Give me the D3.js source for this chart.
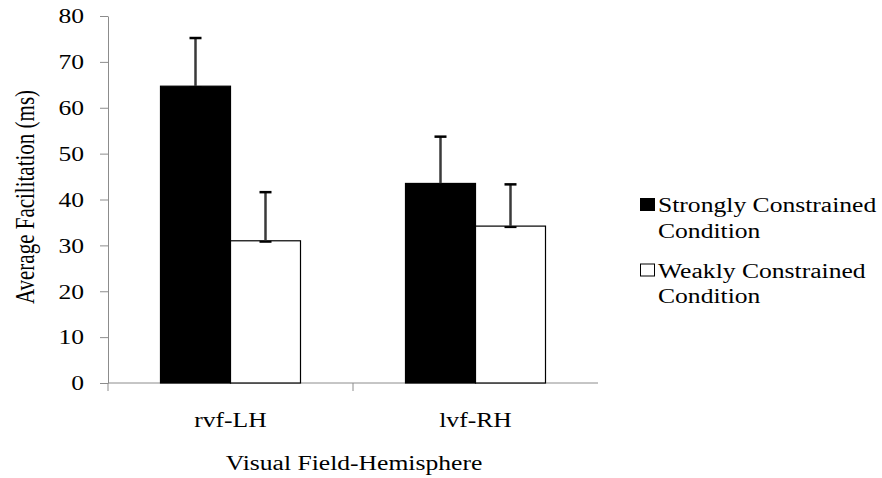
<!DOCTYPE html>
<html>
<head>
<meta charset="utf-8">
<script src="https://cdn.jsdelivr.net/npm/d3@7"></script>
<style>
  body { margin: 0; background: #fff; }
</style>
</head>
<body>
<div id="chart"></div>
<script>
// data
const categories = ["rvf-LH", "lvf-RH"];
const seriesNames = ["Strongly Constrained Condition", "Weakly Constrained Condition"];
const strongValues = [64.7, 43.5];
const strongErrors = [10.5, 10.2];
const weakValues = [31.0, 34.2];
const weakErrors = [10.6, 9.1];
const yTicks = [0, 10, 20, 30, 40, 50, 60, 70, 80];

const FONT = "Liberation Serif";
// the original text is drawn a little wider than it is tall
const SX = 1.28;

let margin = { top: 16, right: 284, bottom: 95, left: 108 },
  width = 882 - margin.left - margin.right,
  height = 478 - margin.top - margin.bottom;

let svg = d3.select("#chart")
  .append("svg")
  .attr("width", 882)
  .attr("height", 478)
  .append("g")
  .attr("transform", translate(margin.left, margin.top));

let x = d3.scaleBand()
  .domain(categories)
  .range([0, width])
  .paddingInner(0)
  .paddingOuter(0);

let inner = d3.scaleBand()
  .domain([0, 1])
  .range([52.5, x.bandwidth() - 52.5]);

let y = d3.scaleLinear()
  .domain([0, 80])
  .range([height, 0]);

// y axis
let yAxis = svg.append("g")
  .call(d3.axisLeft(y).tickValues(yTicks).tickSize(8).tickPadding(16).tickSizeOuter(0))
  .attr("font-family", FONT)
  .attr("font-size", 20);
yAxis.select(".domain").attr("stroke", "#8c8c8c");
yAxis.selectAll(".tick line").attr("stroke", "#8c8c8c");
yAxis.selectAll(".tick text")
  .attr("fill", "#000")
  .attr("dy", "0.34em")
  .call(stretch);

// x axis with ticks between categories
let xAxisG = svg.append("g").attr("transform", translate(0, height));
xAxisG.append("line")
  .attr("x1", 0).attr("x2", width)
  .attr("stroke", "#8c8c8c");
let bounds = [0, x.bandwidth()];
xAxisG.selectAll(".sep")
  .data(bounds)
  .enter().append("line")
  .attr("x1", d => d).attr("x2", d => d)
  .attr("y1", 0).attr("y2", 8)
  .attr("stroke", "#8c8c8c");
xAxisG.selectAll(".cat")
  .data(categories)
  .enter().append("text")
  .attr("x", d => x(d) + x.bandwidth() / 2)
  .attr("y", 43.5)
  .attr("text-anchor", "middle")
  .attr("font-family", FONT)
  .attr("font-size", 20)
  .text(d => d)
  .call(stretch);

// bars
let series = [
  { values: strongValues, errors: strongErrors, fill: "#000" },
  { values: weakValues, errors: weakErrors, fill: "#fff" }
];

series.forEach(function(s, si) {
  let g = svg.append("g");
  let cx = d => x(d) + inner(si) + inner.bandwidth() / 2;
  g.selectAll("rect")
    .data(categories)
    .enter().append("rect")
    .attr("x", d => x(d) + inner(si))
    .attr("width", inner.bandwidth())
    .attr("y", (d, i) => y(s.values[i]))
    .attr("height", (d, i) => height - y(s.values[i]))
    .attr("fill", s.fill)
    .attr("stroke", "#000")
    .attr("stroke-width", 1.2);

  // error bars (upper only)
  g.selectAll(".err")
    .data(categories)
    .enter().append("line")
    .attr("x1", cx)
    .attr("x2", cx)
    .attr("y1", (d, i) => y(s.values[i]))
    .attr("y2", (d, i) => y(s.values[i] + s.errors[i]))
    .attr("stroke", "#3a3a3a")
    .attr("stroke-width", 2.5);
  g.selectAll(".cap")
    .data(categories)
    .enter().append("line")
    .attr("x1", d => cx(d) - 6)
    .attr("x2", d => cx(d) + 6)
    .attr("y1", (d, i) => y(s.values[i] + s.errors[i]))
    .attr("y2", (d, i) => y(s.values[i] + s.errors[i]))
    .attr("stroke", "#000")
    .attr("stroke-width", 2.5);
  g.selectAll(".base")
    .data(categories)
    .enter().append("line")
    .attr("x1", d => cx(d) - 6)
    .attr("x2", d => cx(d) + 6)
    .attr("y1", (d, i) => y(s.values[i]) + 1)
    .attr("y2", (d, i) => y(s.values[i]) + 1)
    .attr("stroke", "#000")
    .attr("stroke-width", 2);
});

// axis titles
svg.append("text")
  .attr("transform", "translate(" + (34 - margin.left) + "," + (197 - margin.top) + ") rotate(-90) scale(1," + SX + ")")
  .attr("text-anchor", "middle")
  .attr("font-family", FONT)
  .attr("font-size", 21)
  .text("Average Facilitation (ms)");

svg.append("text")
  .attr("x", 354 - margin.left)
  .attr("y", 470 - margin.top)
  .attr("text-anchor", "middle")
  .attr("font-family", FONT)
  .attr("font-size", 20)
  .text("Visual Field-Hemisphere")
  .call(stretch);

// legend
let legend = svg.append("g").attr("transform", translate(640 - margin.left, 198 - margin.top));
let legendItems = legend.selectAll(".item")
  .data(seriesNames)
  .enter().append("g")
  .attr("transform", (d, i) => translate(0, i * 65.5));
legendItems.append("rect")
  .attr("x", 0.5).attr("y", 0.5)
  .attr("width", 14).attr("height", 12)
  .attr("fill", (d, i) => series[i].fill)
  .attr("stroke", "#000");
let lt = legendItems.append("text")
  .attr("transform", translate(18, 14) + " scale(" + SX + ",1)")
  .attr("font-family", FONT)
  .attr("font-size", 20);
lt.append("tspan").attr("x", 0).text(d => d.split(" ").slice(0, 2).join(" "));
lt.append("tspan").attr("x", 0).attr("dy", 26).text(d => d.split(" ").slice(2).join(" "));

function stretch(sel) {
  sel.each(function() {
    let t = d3.select(this);
    let tx = +t.attr("x") || 0, ty = +t.attr("y") || 0;
    t.attr("x", 0).attr("y", 0)
      .attr("transform", translate(tx, ty) + " scale(" + SX + ",1)");
  });
}

function translate(x, y) {
  return 'translate(' + x + ',' + y + ')';
}
</script>
</body>
</html>
